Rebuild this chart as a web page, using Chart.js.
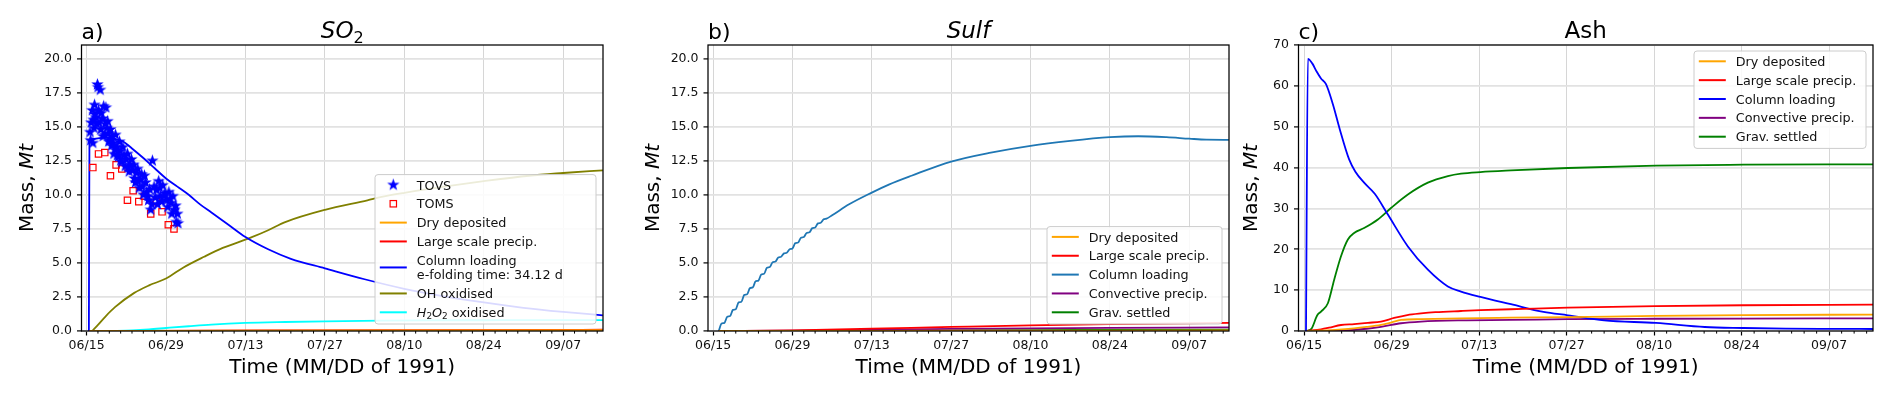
<!DOCTYPE html>
<html>
<head>
<meta charset="utf-8">
<script src="https://cdn.jsdelivr.net/npm/chart.js@4.4.0/dist/chart.umd.min.js"></script>
<style>
  body { margin: 0; background: #fff; width: 1892px; height: 395px; overflow: hidden; position: relative; }
  canvas { position: absolute; top: 0; }
</style>
</head>
<body>
<canvas id="chartA" width="635" height="395" style="left:0"></canvas>
<canvas id="chartB" width="600" height="395" style="left:635px"></canvas>
<canvas id="chartC" width="657" height="395" style="left:1235px"></canvas>
<script>
const FAMILY = "'DejaVu Sans', sans-serif";

// x axis: days after 15 June 1991
const tickDays = [0, 14, 28, 42, 56, 70, 84];
const tickLabels = ['06/15', '06/29', '07/13', '07/27', '08/10', '08/24', '09/07'];
const massTicks = [0, 2.5, 5, 7.5, 10, 12.5, 15, 17.5, 20];
const massTickLabels = ['0.0', '2.5', '5.0', '7.5', '10.0', '12.5', '15.0', '17.5', '20.0'];
const ashTicks = [0, 10, 20, 30, 40, 50, 60, 70];
const ashTickLabels = ['0', '10', '20', '30', '40', '50', '60', '70'];

// a) SO2
const tovsDays = [0.6, 0.7, 0.8, 1.0, 1.1, 1.2, 1.3, 1.4, 1.5, 1.6, 1.8, 1.9, 2.0, 2.1, 2.2, 2.4, 2.5, 2.6, 2.8, 2.9,
  3.0, 3.2, 3.3, 3.4, 3.6, 3.7, 3.8, 3.9, 4.1, 4.2, 4.4, 4.5, 4.7, 4.8, 5.0, 5.1, 5.3, 5.4, 5.6, 5.8,
  5.9, 6.0, 6.2, 6.4, 6.6, 6.8, 7.0, 7.2, 7.3, 7.5, 7.7, 7.9, 8.1, 8.3, 8.4, 8.6, 8.8, 9.0, 9.1, 9.3,
  9.5, 9.7, 9.8, 10.0, 10.2, 10.4, 10.6, 10.8, 10.9, 11.1, 11.3, 11.5, 11.6, 11.9, 12.1, 12.3, 12.5, 12.7, 12.9, 13.0,
  13.2, 13.4, 13.6, 13.8, 14.1, 14.3, 14.5, 14.7, 14.9, 15.0, 15.2, 15.5, 15.7, 15.8, 16.0, 16.1];
const tovsMass = [14.6, 14.0, 15.3, 16.2, 13.8, 15.5, 14.9, 16.6, 15.9, 15.7, 15.2, 18.1, 17.9, 16.2, 15.3, 17.7, 14.8, 16.0, 15.6, 14.3,
  16.5, 14.4, 15.2, 16.4, 14.9, 15.4, 14.5, 13.9, 14.0, 14.8, 13.6, 14.3, 13.8, 13.0, 13.3, 14.4, 13.5, 12.9, 12.8, 13.9,
  13.2, 12.5, 12.4, 13.5, 12.9, 12.1, 12.6, 13.0, 12.0, 11.7, 12.2, 12.6, 11.8, 12.2, 11.2, 10.9, 11.6, 11.9, 11.0, 10.5,
  11.1, 11.5, 10.6, 10.0, 11.4, 10.9, 10.2, 9.9, 9.6, 10.4, 8.9, 9.3, 12.5, 10.6, 9.8, 10.35, 9.3, 11.0, 10.5, 9.9,
  9.5, 10.7, 9.9, 10.1, 9.6, 9.1, 10.2, 9.7, 9.4, 8.6, 9.9, 8.9, 9.2, 8.0, 8.6, 7.9];
const tomsDays = [1.1, 2.1, 3.2, 4.2, 5.2, 6.2, 7.2, 8.2, 9.2, 10.2, 11.3, 12.3, 13.3, 14.4, 15.4];
const tomsMass = [12.0, 13.0, 13.1, 11.4, 12.2, 11.9, 9.6, 10.3, 9.5, 9.9, 8.6, 9.5, 8.75, 7.8, 7.5];
const so2DryDays = [0.5, 30, 60, 91];
const so2Dry = [0, 0.03, 0.05, 0.06];
const so2LspDays = [0.5, 30, 60, 91];
const so2Lsp = [0, 0.04, 0.07, 0.09];
const so2ColDays = [0.4, 0.5, 1, 3, 5, 6.5, 8, 10, 12, 14, 16, 18, 20, 22, 25, 28, 32, 36, 42, 49, 56, 63, 70, 77, 84, 91];
const so2Col = [0, 13.9, 14.1, 14.2, 14.1, 13.9, 13.4, 12.7, 11.95, 11.2, 10.6, 10.0, 9.3, 8.7, 7.8, 6.9, 6.0, 5.3, 4.6, 3.8, 3.1, 2.55, 2.1, 1.7, 1.4, 1.15];
const ohDays = [1, 2, 3.4, 5, 8.4, 11, 14, 17, 20.7, 24, 28.9, 32, 35, 42, 49.5, 52, 56, 63, 70, 78, 84, 91];
const ohMass = [0, 0.45, 1.1, 1.75, 2.8, 3.35, 3.85, 4.65, 5.45, 6.1, 6.85, 7.4, 8.0, 8.9, 9.6, 9.85, 10.15, 10.6, 11.0, 11.4, 11.6, 11.8];
const h2o2Days = [4, 8, 11, 14, 18, 22, 28, 35, 42, 52, 60, 70, 80, 91];
const h2o2Mass = [0, 0.05, 0.12, 0.22, 0.35, 0.47, 0.59, 0.66, 0.71, 0.76, 0.78, 0.79, 0.8, 0.8];

// b) Sulf
const sulfColDays = [1, 1.5, 2, 2.5, 3, 3.5, 4, 4.5, 5, 5.5, 6, 6.5, 7, 7.5, 8, 8.5, 9, 9.5, 10, 10.5,
  11, 11.5, 12, 12.5, 13, 13.5, 14, 14.5, 15, 15.5, 16, 16.5, 17, 17.5, 18, 18.5, 19, 19.5, 20, 21,
  24, 28, 31, 35, 42, 49, 56, 63, 70, 75, 80, 84, 87, 91];
const sulfCol = [0, 0.55, 0.6, 1.05, 1.1, 1.55, 1.6, 2.1, 2.15, 2.65, 2.7, 3.15, 3.2, 3.65, 3.7, 4.15, 4.2, 4.65, 4.7, 5.05,
  5.1, 5.4, 5.45, 5.7, 5.75, 6.0, 6.06, 6.45, 6.5, 6.85, 6.9, 7.2, 7.25, 7.55, 7.6, 7.9, 7.95, 8.2, 8.25, 8.5,
  9.3, 10.16, 10.75, 11.4, 12.44, 13.1, 13.6, 13.96, 14.23, 14.3, 14.23, 14.12, 14.05, 14.04];
const sulfSideDays = [1, 14, 28, 42, 56, 70, 91];
const sulfDry = [0, 0, 0.01, 0.02, 0.03, 0.03, 0.04];
const sulfLsp = [0, 0.05, 0.17, 0.3, 0.42, 0.5, 0.59];
const sulfConv = [0, 0.02, 0.08, 0.15, 0.2, 0.23, 0.26];
const sulfGrav = [0, 0.01, 0.03, 0.05, 0.07, 0.08, 0.1];

// c) Ash
const ashColDays = [0.3, 0.6, 1.3, 2.0, 2.7, 3.5, 4.6, 5.7, 7.2, 8.2, 9.6, 11.3, 13.4, 16.6, 19.8, 23.0, 25.1, 28.2,
  33.1, 38.3, 42.2, 48.0, 56.3, 64.1, 70.3, 77, 84, 91.2];
const ashCol = [0, 66.6, 65.5, 63.5, 61.8, 60.4, 55.5, 49.4, 42.0, 39.0, 36.3, 33.6, 28.5, 20.7, 15.0, 10.9, 9.66, 8.35,
  6.55, 4.67, 3.85, 2.6, 1.97, 0.98, 0.74, 0.57, 0.52, 0.49];
const ashGravDays = [0.5, 1.2, 2.1, 2.7, 3.8, 4.8, 5.9, 7.0, 8.0, 9.6, 11.8, 13.9, 16.6, 19.8, 23.0, 25.1, 28.2, 33.1, 42.2, 56.3, 70.3, 91.2];
const ashGrav = [0, 0.6, 3.85, 4.75, 6.8, 12.5, 18.3, 22.4, 24.0, 25.2, 27.3, 30.1, 33.4, 36.3, 37.9, 38.5, 38.9, 39.3, 39.9, 40.5, 40.7, 40.8];
const ashLspDays = [0.5, 2.7, 4, 5.9, 8, 10.2, 12.3, 14.4, 16.5, 18.7, 21, 25.1, 28.2, 35, 42.2, 56.3, 70.3, 91.2];
const ashLsp = [0, 0.4, 0.8, 1.47, 1.7, 2.0, 2.3, 3.2, 3.9, 4.3, 4.6, 4.9, 5.1, 5.4, 5.7, 6.1, 6.3, 6.45];
const ashDryDays = [0.5, 5, 8, 10, 12.3, 14, 15.5, 18.7, 25.1, 33, 42.2, 56.3, 70.3, 91.2];
const ashDry = [0, 0.3, 0.65, 1.0, 1.5, 2.1, 2.7, 2.9, 3.1, 3.25, 3.4, 3.7, 3.9, 4.0];
const ashConvDays = [0.5, 5, 8, 10, 12.3, 15.5, 18.7, 25.1, 33, 42.2, 56.3, 70.3, 91.2];
const ashConv = [0, 0.1, 0.3, 0.55, 1.0, 1.9, 2.3, 2.6, 2.7, 2.9, 3.0, 3.05, 3.1];

const pts = (days, vals) => days.map((d, i) => ({ x: d, y: vals[i] }));

function starImage(r, color) {
  const c = document.createElement('canvas');
  const s = Math.ceil(r * 2 + 2);
  c.width = c.height = s;
  const g = c.getContext('2d');
  g.fillStyle = color;
  g.beginPath();
  for (let i = 0; i < 10; i++) {
    const rr = i % 2 ? r * 0.4 : r;
    const ang = -Math.PI / 2 + i * Math.PI / 5;
    g.lineTo(s / 2 + rr * Math.cos(ang), s / 2 + rr * Math.sin(ang));
  }
  g.closePath();
  g.fill();
  return c;
}
const star = starImage(6.5, '#0000ff');

function line(label, days, vals, color, extra) {
  return Object.assign({
    label, data: pts(days, vals), borderColor: color, backgroundColor: color,
    borderWidth: 1.8, pointRadius: 0, cubicInterpolationMode: 'monotone', marker: 'line'
  }, extra || {});
}

// mixed italic / subscript text
function drawRich(ctx, segs, x, y, size, align) {
  const fontOf = s => `${s.it ? 'italic ' : ''}${s.sub ? size * 0.7 : size}px ${FAMILY}`;
  let total = 0;
  segs.forEach(s => { ctx.font = fontOf(s); total += ctx.measureText(s.t).width; });
  let cx = align === 'center' ? x - total / 2 : x;
  ctx.textAlign = 'left';
  ctx.textBaseline = 'alphabetic';
  segs.forEach(s => {
    ctx.font = fontOf(s);
    ctx.fillText(s.t, cx, y + (s.sub ? size * 0.2 : 0));
    cx += ctx.measureText(s.t).width;
  });
}

function drawLegend(chart, L) {
  const ctx = chart.ctx, a = chart.chartArea, fs = 12.75;
  const items = chart.data.datasets.map(ds => ({
    ds, lines: ds.rich ? [ds.rich] : ds.label.split('\n').map(t => [{ t }])
  }));
  let h = 10.3 + 11.7;
  items.forEach((it, i) => { h += (i ? 18.85 : 0) + (it.lines.length - 1) * 14.3; });
  const w = L.width;
  const x0 = a.right - 7 - w;
  const y0 = L.corner === 'top' ? a.top + 6 : a.bottom - 7 - h;
  ctx.save();
  ctx.fillStyle = 'rgba(255,255,255,0.85)';
  ctx.strokeStyle = '#cccccc';
  ctx.lineWidth = 1;
  ctx.beginPath();
  ctx.roundRect(x0, y0, w, h, 3);
  ctx.fill();
  ctx.stroke();
  let cy = y0 + 10.3;
  const hx = x0 + 4.8;
  items.forEach((it, i) => {
    if (i) cy += 18.85;
    const n = it.lines.length;
    const mid = cy + (n - 1) * 14.3 / 2;
    const ds = it.ds;
    if (ds.marker === 'star') {
      ctx.drawImage(star, hx + 13.5 - star.width / 2, mid - star.height / 2);
    } else if (ds.marker === 'square') {
      ctx.strokeStyle = ds.borderColor; ctx.lineWidth = 1.2;
      ctx.strokeRect(hx + 13.5 - 3.2, mid - 3.2, 6.4, 6.4);
    } else {
      ctx.strokeStyle = ds.borderColor; ctx.lineWidth = 2;
      ctx.beginPath(); ctx.moveTo(hx, mid); ctx.lineTo(hx + 27, mid); ctx.stroke();
    }
    ctx.fillStyle = '#111';
    it.lines.forEach((segs, k) => drawRich(ctx, segs, hx + 37, cy + k * 14.3 + 4.6, fs, 'left'));
    cy += (n - 1) * 14.3;
  });
  ctx.restore();
}

const decor = {
  id: 'decor',
  beforeDraw(chart) {
    const ctx = chart.ctx;
    ctx.save(); ctx.fillStyle = '#fff'; ctx.fillRect(0, 0, chart.width, chart.height); ctx.restore();
  },
  afterDraw(chart, args, o) {
    const ctx = chart.ctx, a = chart.chartArea, xs = chart.scales.x;
    ctx.save();
    ctx.strokeStyle = '#000';
    ctx.lineWidth = 1;
    for (let d = 2; d <= 90; d += 2) {
      if (d % 14 === 0) continue;
      const px = xs.getPixelForValue(d);
      ctx.beginPath(); ctx.moveTo(px, a.bottom); ctx.lineTo(px, a.bottom + 2.6); ctx.stroke();
    }
    ctx.lineWidth = 1.25;
    ctx.strokeRect(a.left, a.top, a.right - a.left, a.bottom - a.top);
    ctx.fillStyle = '#000';
    drawRich(ctx, [{ t: o.letter }], a.left, 39, 22, 'left');
    drawRich(ctx, o.title, (a.left + a.right) / 2, 38, 23, 'center');
    drawRich(ctx, [{ t: 'Time (MM/DD of 1991)' }], (a.left + a.right) / 2, 373, 20, 'center');
    ctx.save();
    ctx.translate(o.yTitleX, (a.top + a.bottom) / 2);
    ctx.rotate(-Math.PI / 2);
    drawRich(ctx, [{ t: 'Mass, ' }, { t: 'Mt', it: true }], 0, 0, 20, 'center');
    ctx.restore();
    drawLegend(chart, o.legend);
    ctx.restore();
  }
};

function xAxis(min, max) {
  return {
    type: 'linear', min, max,
    afterBuildTicks: s => { s.ticks = tickDays.map(v => ({ value: v })); },
    afterFit: s => { s.height = 64; },
    grid: { color: '#d6d6d6', lineWidth: 1, tickLength: 4.5, tickColor: '#000', tickWidth: 1.2 },
    border: { display: false },
    ticks: { font: { family: FAMILY, size: 12.5 }, color: '#111', padding: 3, maxRotation: 0, autoSkip: false,
      callback: (v, i) => tickLabels[i] }
  };
}
function yAxis(max, ticks, labels, width) {
  return {
    min: 0, max,
    afterBuildTicks: s => { s.ticks = ticks.map(v => ({ value: v })); },
    afterFit: s => { s.width = width; },
    grid: { color: '#e2e2e2', lineWidth: 1.8, tickLength: 4.5, tickColor: '#000', tickWidth: 1.2 },
    border: { display: false },
    ticks: { font: { family: FAMILY, size: 12.5 }, color: '#111', padding: 5, callback: (v, i) => labels[i] }
  };
}

function makeChart(id, datasets, opt) {
  return new Chart(document.getElementById(id), {
    type: 'line',
    data: { datasets },
    plugins: [decor],
    options: {
      responsive: false, animation: false, events: [],
      layout: { padding: { left: 0, right: opt.padRight, top: 45, bottom: 0 } },
      scales: { x: xAxis(-0.9, 91.02), y: yAxis(opt.ymax, opt.ticks, opt.labels, opt.left) },
      plugins: {
        legend: { display: false }, tooltip: { enabled: false },
        decor: { letter: opt.letter, title: opt.title, yTitleX: opt.yTitleX, legend: opt.legend }
      }
    }
  });
}

makeChart('chartA', [
  { label: 'TOVS', data: pts(tovsDays, tovsMass), showLine: false, pointStyle: star, pointRadius: 6.5, marker: 'star',
    borderColor: '#0000ff', backgroundColor: '#0000ff' },
  { label: 'TOMS', data: pts(tomsDays, tomsMass), showLine: false, pointStyle: 'rect', pointRadius: 4.5, pointBorderWidth: 1.2,
    borderColor: '#ff0000', backgroundColor: 'rgba(0,0,0,0)', marker: 'square' },
  line('Dry deposited', so2DryDays, so2Dry, '#ffa500'),
  line('Large scale precip.', so2LspDays, so2Lsp, '#ff0000'),
  line('Column loading\ne-folding time: 34.12 d', so2ColDays, so2Col, '#0000ff'),
  line('OH oxidised', ohDays, ohMass, '#808000'),
  line('H2O2 oxidised', h2o2Days, h2o2Mass, '#00ffff', {
    rich: [{ t: 'H', it: true }, { t: '2', sub: true }, { t: 'O', it: true }, { t: '2', sub: true }, { t: ' oxidised' }] })
], { letter: 'a)', title: [{ t: 'SO', it: true }, { t: '2', sub: true }], yTitleX: 33, left: 81.5, padRight: 32,
  ymax: 21, ticks: massTicks, labels: massTickLabels, legend: { corner: 'bottom', width: 221 } });

makeChart('chartB', [
  line('Dry deposited', sulfSideDays, sulfDry, '#ffa500'),
  line('Large scale precip.', sulfSideDays, sulfLsp, '#ff0000'),
  line('Column loading', sulfColDays, sulfCol, '#1f77b4'),
  line('Convective precip.', sulfSideDays, sulfConv, '#800080'),
  line('Grav. settled', sulfSideDays, sulfGrav, '#008000')
], { letter: 'b)', title: [{ t: 'Sulf', it: true }], yTitleX: 24, left: 73, padRight: 6,
  ymax: 21, ticks: massTicks, labels: massTickLabels, legend: { corner: 'bottom', width: 175 } });

makeChart('chartC', [
  line('Dry deposited', ashDryDays, ashDry, '#ffa500'),
  line('Large scale precip.', ashLspDays, ashLsp, '#ff0000'),
  line('Column loading', ashColDays, ashCol, '#0000ff'),
  line('Convective precip.', ashConvDays, ashConv, '#800080'),
  line('Grav. settled', ashGravDays, ashGrav, '#008000')
], { letter: 'c)', title: [{ t: 'Ash' }], yTitleX: 22, left: 63.5, padRight: 19,
  ymax: 70, ticks: ashTicks, labels: ashTickLabels, legend: { corner: 'top', width: 172 } });
</script>
</body>
</html>
